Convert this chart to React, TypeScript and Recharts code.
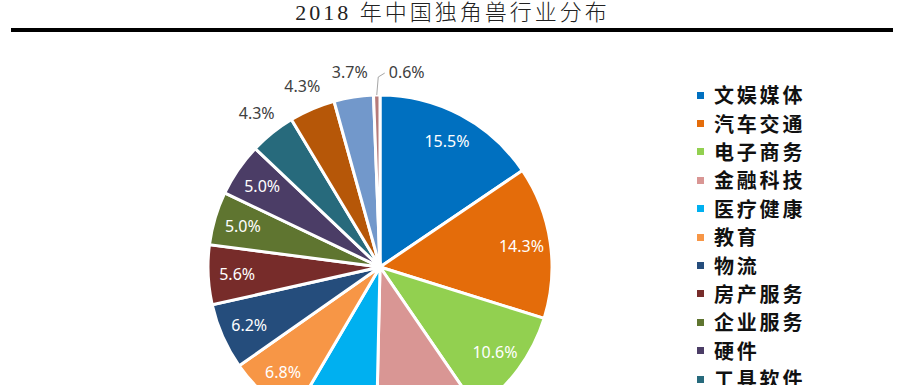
import React from 'react';
import { PieChart, Pie, Cell, Legend } from 'recharts';

const categories = ['文娱媒体', '汽车交通', '电子商务', '金融科技', '医疗健康', '教育', '物流', '房产服务', '企业服务', '硬件', '工具软件', '本地生活', '人工智能', '其他'];
const shares = [15.5, 14.3, 10.6, 9.9, 8.1, 6.8, 6.2, 5.6, 5.0, 5.0, 4.3, 4.3, 3.7, 0.6];
const colors = ['#0070C0', '#E46C0A', '#92D050', '#D99694', '#00B0F0', '#F79646', '#254D7C', '#772C2A', '#5F7530', '#4B3D66', '#276A7C', '#B65708', '#7298CB', '#B57B7A'];
const title = '2018 年中国独角兽行业分布';

const data = categories.map((name, i) => ({ name, value: shares[i] }));

const RAD = Math.PI / 180;
const labelFont = "'Noto Sans', sans-serif";

const renderLabel = (props: any) => {
  const { cx, cy, midAngle, outerRadius, index, value } = props;
  const text = `${Number(value).toFixed(1)}%`;
  const outside = index >= 10;
  if (index === 13) {
    const ex = cx + outerRadius * Math.cos(-midAngle * RAD);
    const ey = cy + outerRadius * Math.sin(-midAngle * RAD);
    return (
      <g>
        <path d={`M${ex},${ey} L${ex + 1.5},${ey - 18} L${ex + 8},${ey - 22}`} stroke="#A6A6A6" strokeWidth={1} fill="none" />
        <text x={ex + 12} y={ey - 23} fill="#404040" fontSize={16} fontFamily={labelFont} dominantBaseline="central" textAnchor="start">{text}</text>
      </g>
    );
  }
  const r = outside ? outerRadius + 25 : outerRadius - 29;
  const x = cx + r * Math.cos(-midAngle * RAD);
  const y = cy + r * Math.sin(-midAngle * RAD);
  return (
    <text x={x} y={y} fill={outside ? '#404040' : '#FFFFFF'} fontSize={16} fontFamily={labelFont} textAnchor="middle" dominantBaseline="central">{text}</text>
  );
};

const renderLegend = () => (
  <div style={{ display: 'flex', flexDirection: 'column' }}>
    {categories.map((name, i) => (
      <div key={name} style={{ height: 28.4, display: 'flex', alignItems: 'center' }}>
        <span style={{ display: 'inline-block', width: 7, height: 7, background: colors[i], marginRight: 10 }} />
        <span style={{ fontFamily: "'Noto Sans CJK SC', sans-serif", fontWeight: 700, fontSize: 20, letterSpacing: 2.8, color: '#111', lineHeight: '28px' }}>{name}</span>
      </div>
    ))}
  </div>
);

export default function App() {
  return (
    <div style={{ position: 'absolute', left: 0, top: 0, width: 905, height: 385, background: '#fff', overflow: 'hidden' }}>
      <div style={{ position: 'absolute', left: 0, top: -1, width: 905, textAlign: 'center', fontFamily: "'Liberation Serif', 'Noto Sans CJK SC', serif", fontSize: 22, letterSpacing: 3, lineHeight: '28px', color: '#222', fontWeight: 300 }}>{title}</div>
      <div style={{ position: 'absolute', left: 11, top: 28, width: 882, height: 4, background: '#000' }} />
      <div style={{ position: 'absolute', left: 0, top: 0 }}>
        <PieChart width={905} height={385} margin={{ top: 0, right: 0, bottom: 0, left: 0 }}>
          <Pie
            data={data}
            dataKey="value"
            nameKey="name"
            cx={380}
            cy={267}
            outerRadius={172}
            startAngle={90}
            endAngle={-270}
            stroke="#FFFFFF"
            strokeWidth={3}
            label={renderLabel}
            labelLine={false}
            isAnimationActive={false}
          >
            {data.map((d, i) => (
              <Cell key={d.name} fill={colors[i]} />
            ))}
          </Pie>
          <Legend
            layout="vertical"
            align="right"
            verticalAlign="top"
            content={renderLegend}
            wrapperStyle={{ position: 'absolute', left: 697, top: 81, width: 200 }}
          />
        </PieChart>
      </div>
    </div>
  );
}
